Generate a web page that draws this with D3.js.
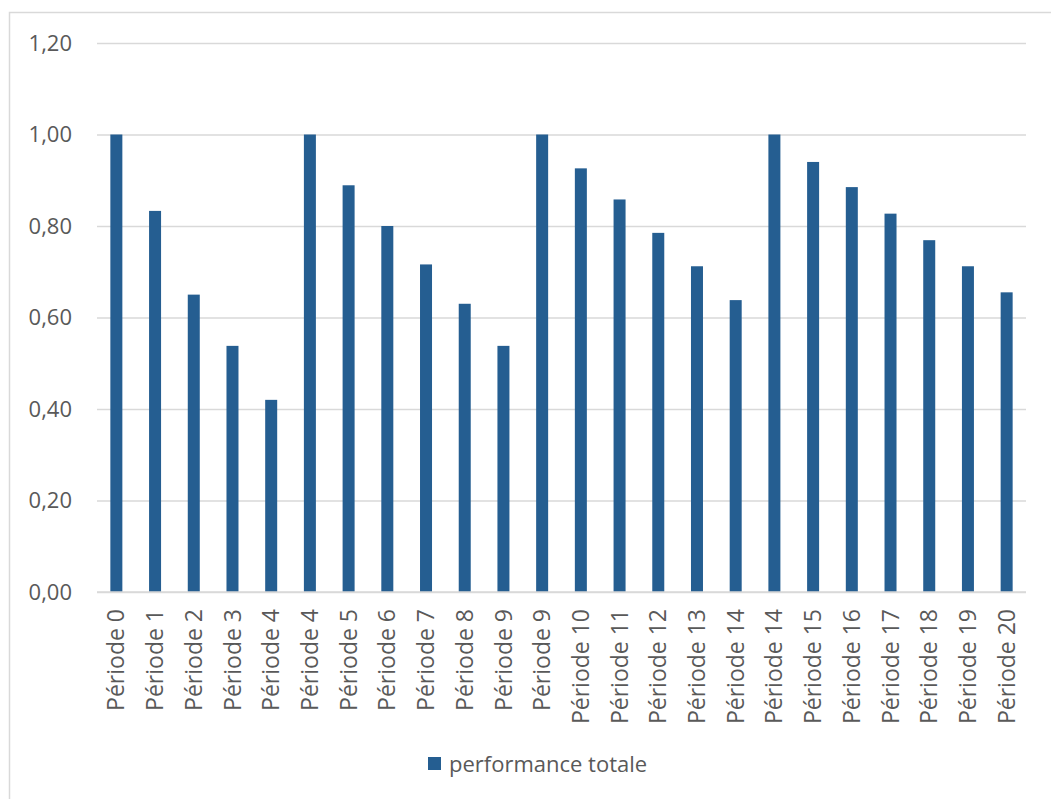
<!DOCTYPE html>
<html>
<head>
<meta charset="utf-8">
<script src="https://cdn.jsdelivr.net/npm/d3@7/dist/d3.min.js"></script>
<style>
  body { margin: 0; background: #fff; }
  text { font-family: "Open Sans", "Liberation Sans", sans-serif; fill: #595959; }
</style>
</head>
<body>
<div id="chart"></div>
<script>
// categories (the source repeats 4, 9 and 14)
var periods = ['Période 0', 'Période 1', 'Période 2', 'Période 3', 'Période 4',
  'Période 4', 'Période 5', 'Période 6', 'Période 7', 'Période 8', 'Période 9',
  'Période 9', 'Période 10', 'Période 11', 'Période 12', 'Période 13', 'Période 14',
  'Période 14', 'Période 15', 'Période 16', 'Période 17', 'Période 18', 'Période 19', 'Période 20'];
// performance totale
var performance = [1.00, 0.833, 0.65, 0.538, 0.42,
  1.00, 0.889, 0.80, 0.716, 0.63, 0.538,
  1.00, 0.926, 0.858, 0.785, 0.712, 0.638,
  1.00, 0.94, 0.885, 0.827, 0.769, 0.712, 0.655];
var yTicks = [0, 0.2, 0.4, 0.6, 0.8, 1.0, 1.2];
var seriesName = 'performance totale';

var W = 1051, H = 799;
var margin = {left: 97, right: 25, top: 43, bottom: 207};
var color = '#255e91';

var svg = d3.select('#chart').append('svg')
  .attr('width', W)
  .attr('height', H);

// chart area border (runs off the right and bottom edge)
svg.append('rect')
  .attr('x', 9.5).attr('y', 12.5)
  .attr('width', W + 20).attr('height', H + 20)
  .style('fill', 'none')
  .style('stroke', '#d9d9d9')
  .style('stroke-width', 1.5);

var x = d3.scaleBand()
  .domain(d3.range(periods.length))
  .range([margin.left, W - margin.right])
  .paddingInner(0.69)
  .paddingOuter(0.345);

var y = d3.scaleLinear()
  .domain([0, 1.2])
  .range([H - margin.bottom, margin.top]);

// gridlines + y labels
var yAxis = d3.axisLeft(y)
  .tickValues(yTicks)
  .tickSize(-(W - margin.left - margin.right))
  .tickPadding(25)
  .tickFormat(function(d) { return d3.format('.2f')(d).replace('.', ','); });

var gy = svg.append('g')
  .attr('transform', 'translate(' + margin.left + ',0)')
  .call(yAxis);
gy.select('.domain').remove();
gy.selectAll('line').style('stroke', '#d9d9d9').style('stroke-width', 1.5);
gy.selectAll('text').style('font-size', '22px').style('fill', '#595959');

// bars
svg.selectAll('.bar')
  .data(performance)
  .enter()
  .append('rect')
  .classed('bar', true)
  .attr('x', function(d, i) { return x(i); })
  .attr('width', x.bandwidth())
  .attr('y', function(d) { return y(d); })
  .attr('height', function(d) { return y(0) - y(d); })
  .style('fill', color);

// x labels, rotated
var xAxis = d3.axisBottom(x)
  .tickSize(0)
  .tickFormat(function(i) { return periods[i]; });
var gx = svg.append('g')
  .attr('transform', 'translate(0,' + y(0) + ')')
  .call(xAxis);
gx.select('.domain').remove();
gx.selectAll('text')
  .style('font-size', '23px')
  .style('fill', '#595959')
  .style('text-anchor', 'end')
  .attr('transform', 'rotate(-90)')
  .attr('x', -17)
  .attr('y', 0)
  .attr('dy', '0.35em');

// baseline
svg.append('line')
  .attr('x1', margin.left).attr('x2', W - margin.right)
  .attr('y1', y(0)).attr('y2', y(0))
  .style('stroke', '#d9d9d9')
  .style('stroke-width', 1.5);

// legend
var legend = svg.append('g').attr('transform', 'translate(428,757)');
legend.append('rect')
  .attr('width', 13).attr('height', 13)
  .style('fill', color);
legend.append('text')
  .attr('x', 21).attr('y', 7)
  .attr('dy', '0.35em')
  .style('font-size', '22px')
  .text(seriesName);
</script>
</body>
</html>
